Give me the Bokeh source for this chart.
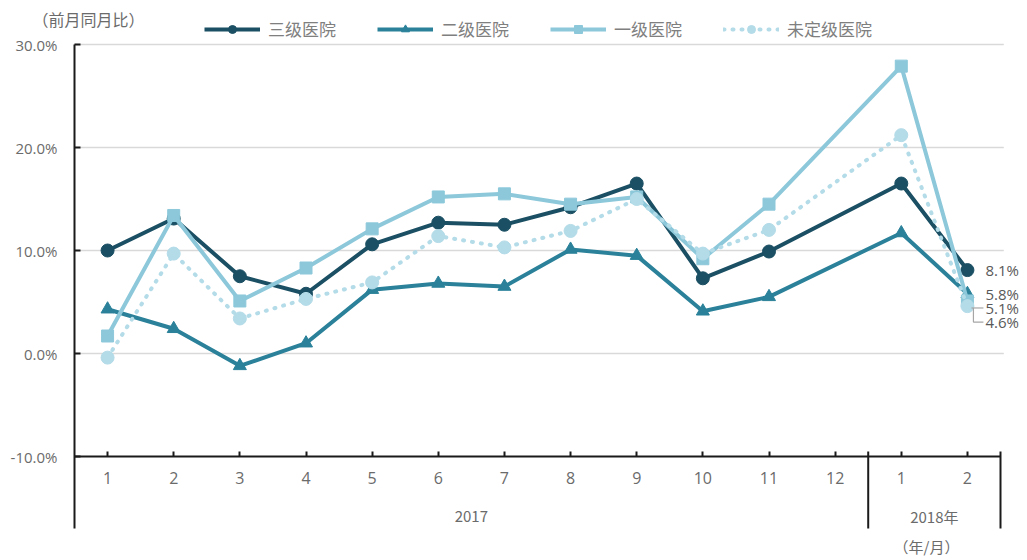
from bokeh.plotting import figure
from bokeh.models import Range1d, FixedTicker, PrintfTickFormatter, Legend, LegendItem, Label, LinearAxis
from bokeh.core.properties import value
from bokeh.embed import file_html
from bokeh.resources import INLINE

# ---------------- data ----------------
month_labels = ["1", "2", "3", "4", "5", "6", "7", "8", "9", "10", "11", "12", "1", "2"]
year_labels = ["2017", "2018年"]
year_groups = [(1, 12), (13, 14)]          # slot ranges of each year
data_slots = [1, 2, 3, 4, 5, 6, 7, 8, 9, 10, 11, 13, 14]   # no value for 2017/12
series_names = ["三级医院", "二级医院", "一级医院", "未定级医院"]
tier3 = [10.0, 13.1, 7.5, 5.8, 10.6, 12.7, 12.5, 14.2, 16.5, 7.3, 9.9, 16.5, 8.1]
tier2 = [4.3, 2.4, -1.2, 1.0, 6.2, 6.8, 6.5, 10.1, 9.5, 4.1, 5.5, 11.7, 5.8]
tier1 = [1.7, 13.4, 5.1, 8.3, 12.1, 15.2, 15.5, 14.5, 15.2, 9.2, 14.5, 27.9, 5.1]
unrated = [-0.4, 9.7, 3.4, 5.3, 6.9, 11.4, 10.3, 11.9, 15.0, 9.7, 12.0, 21.2, 4.6]
y_ticks = [-10, 0, 10, 20, 30]
grid_values = [0, 10, 20, 30]

# ---------------- geometry (pixels of the figure) ----------------
W, H = 1027, 560
AX_X, TOP_Y, AXIS_Y, BOT_Y = 74, 44, 456, 528   # y axis x, 30% line, -10% line, bottom of separators
n_slots = len(month_labels)
px_per_slot = 926 / n_slots
px_per_unit = (AXIS_Y - TOP_Y) / (y_ticks[-1] - y_ticks[0])
x0 = 0.5 - AX_X / px_per_slot
x1 = x0 + W / px_per_slot
y1 = y_ticks[-1] + TOP_Y / px_per_unit
y0 = y1 - H / px_per_unit


def xd(px):
    return x0 + px / px_per_slot


def yd(py):
    return y1 - py / px_per_unit


x_left, x_right = 0.5, n_slots + 0.5
x_axis_y = y_ticks[0]
sep_bottom = yd(BOT_Y)

p = figure(width=W, height=H, output_backend="svg", toolbar_location=None,
           x_range=Range1d(x0, x1), y_range=Range1d(y0, y1), x_axis_type=None,
           min_border_left=0, min_border_right=0, min_border_top=0, min_border_bottom=0)
p.outline_line_color = None
p.ygrid.grid_line_color = None

GRAY = "#6b6b6b"

# y axis (drawn at fixed location)
ax = p.yaxis[0]
ax.fixed_location = x_left
ax.bounds = (sep_bottom, y_ticks[-1])
ax.ticker = FixedTicker(ticks=y_ticks)
ax.formatter = PrintfTickFormatter(format="%.1f%%")
ax.axis_line_color = "#1a1a1a"
ax.axis_line_width = 2
ax.major_tick_in = 6
ax.major_tick_out = 0
ax.major_tick_line_color = "#1a1a1a"
ax.major_tick_line_width = 2
ax.minor_tick_line_color = None
ax.major_label_standoff = 17
ax.major_label_text_font = "Open Sans"
ax.major_label_text_font_size = "15px"
ax.major_label_text_color = GRAY

# x axis (category slots)
xax = LinearAxis(fixed_location=x_axis_y, bounds=(x_left, x_right),
                 ticker=FixedTicker(ticks=list(range(1, n_slots + 1))),
                 major_label_overrides={i + 1: lab for i, lab in enumerate(month_labels)})
xax.axis_line_color = "#1a1a1a"
xax.axis_line_width = 2
xax.major_tick_in = 5
xax.major_tick_out = 0
xax.major_tick_line_color = "#1a1a1a"
xax.major_tick_line_width = 2
xax.minor_tick_line_color = None
xax.major_label_standoff = 15
xax.major_label_text_font = "Open Sans"
xax.major_label_text_font_size = "16px"
xax.major_label_text_color = GRAY
p.add_layout(xax, "below")

# gridlines
p.segment(x0=[x_left] * len(grid_values), x1=[x_right + 0.05] * len(grid_values),
          y0=grid_values, y1=grid_values, line_color="#d9d9d9", line_width=1.5, level="underlay")

# year separators and year labels
sep_x = [g[1] + 0.5 for g in year_groups]
p.segment(x0=sep_x, x1=sep_x, y0=[x_axis_y + 5 / px_per_unit] * len(sep_x), y1=[sep_bottom] * len(sep_x),
          line_color="#1a1a1a", line_width=2)
p.text(x=[(a + b) / 2 for a, b in year_groups], y=[yd(516)] * len(year_groups),
       text=year_labels, text_align="center", text_baseline="middle",
       text_font=value("Noto Sans CJK SC"), text_font_size="15px", text_color=GRAY)

# series
colors = ["#1b4f63", "#2a8199", "#8cc8da", "#b3dbe8"]
markers = ["circle", "triangle", "square", "circle"]
values = [tier3, tier2, tier1, unrated]
items = []
for name, vals, c, m in zip(series_names, values, colors, markers):
    dotted = name == "未定级医院"
    ln = p.line(data_slots, vals, line_color=c, line_width=4,
                line_dash="1 8" if dotted else "solid", line_cap="round" if dotted else "butt",
                line_join="round")
    sc = p.scatter(data_slots, vals, marker=m, size=13 if m != "square" else 12,
                   fill_color=c, line_color=c)
    items.append(LegendItem(label=name, renderers=[ln, sc]))

# end labels
last_vals = [v[-1] for v in values]
label_offsets_px = [0, 0, 7, 16]
lab_y = [v - o / px_per_unit for v, o in zip(last_vals, label_offsets_px)]
lab_x = data_slots[-1] + 18 / px_per_slot
p.text(x=[lab_x] * 4, y=lab_y, text=[f"{v:.1f}%" for v in last_vals],
       text_align="left", text_baseline="middle", text_font=value("Open Sans"),
       text_font_size="15px", text_color="#595959")
lx0 = data_slots[-1] + 4 / px_per_slot
lx1 = data_slots[-1] + 16 / px_per_slot
p.multi_line(xs=[[lx0, lx1], [lx0 + 2 / px_per_slot, lx0 + 2 / px_per_slot, lx1]],
             ys=[[lab_y[2], lab_y[2]], [last_vals[3] - 2 / px_per_unit, lab_y[3], lab_y[3]]],
             line_color="#a6a6a6", line_width=1.2)

# legend (location = bottom-left corner, measured from the frame's bottom-left)
legend = Legend(items=items, orientation="horizontal", location=(204, H - 41),
                glyph_width=56, glyph_height=20, label_standoff=8, spacing=41,
                padding=0, margin=0, border_line_color=None, background_fill_alpha=0,
                label_text_font="Noto Sans CJK SC", label_text_font_size="17px",
                label_text_color="#7f7f7f")
p.add_layout(legend)

# titles
p.add_layout(Label(x=xd(32), y=yd(18), text="（前月同月比）",
                   text_baseline="middle", text_align="left", text_font="Noto Sans CJK SC",
                   text_font_size="16px", text_color=GRAY))
p.add_layout(Label(x=xd(926), y=yd(546), text="（年/月）",
                   text_baseline="middle", text_align="center", text_font="Noto Sans CJK SC",
                   text_font_size="15px", text_color=GRAY))

open("out.html", "w").write(file_html(p, INLINE))
